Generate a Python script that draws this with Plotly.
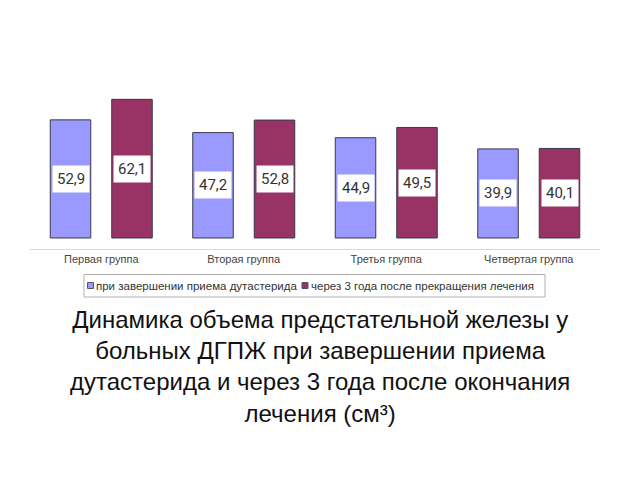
import plotly.graph_objects as go

categories = ["Первая группа", "Вторая группа", "Третья группа", "Четвертая группа"]
series_names = ["при завершении приема дутастерида", "через 3 года после прекращения лечения"]
values_end = [52.9, 47.2, 44.9, 39.9]
values_3y = [62.1, 52.8, 49.5, 40.1]
colors = ["#9999FF", "#993366"]

title_text = ("Динамика объема предстательной железы у<br>"
              "больных ДГПЖ при завершении приема<br>"
              "дутастерида и через 3 года после окончания<br>"
              "лечения (см³)")

W, H = 640, 480
ML, MR, MT, MB = 30, 40, 40, 231
plot_w = W - ML - MR
plot_h = H - MT - MB


def px_x(p):
    return (p - ML) / plot_w


def px_y(p):
    return (H - MB - p) / plot_h


fig = go.Figure()
for name, vals, col in zip(series_names, [values_end, values_3y], colors):
    fig.add_trace(go.Bar(
        x=categories, y=vals, name=name,
        marker=dict(color=col, line=dict(color="#3a3a4a", width=1)),
        hoverinfo="skip", showlegend=False,
    ))

for vals, shift in [(values_end, -30.75), (values_3y, 30.75)]:
    for c, v in zip(categories, vals):
        fig.add_annotation(
            x=c, y=v / 2, xref="x", yref="y", xshift=shift,
            text=f"{v:.1f}".replace(".", ","), showarrow=False,
            bgcolor="white", borderpad=4,
            font=dict(family="Roboto, Arial, sans-serif", size=15, color="#333333"),
        )

# legend box (drawn manually to match the compact original layout)
fig.add_shape(type="rect", xref="paper", yref="paper",
              x0=px_x(84), x1=px_x(545), y0=px_y(297), y1=px_y(274.5),
              line=dict(color="#b0b0b0", width=1), fillcolor="white", layer="below")
legend_items = [(87.5, 94, series_names[0], colors[0]),
                (302, 309, series_names[1], colors[1])]
for sx, tx, name, col in legend_items:
    fig.add_shape(type="rect", xref="paper", yref="paper",
                  x0=px_x(sx), x1=px_x(sx + 6), y0=px_y(288.5), y1=px_y(282.5),
                  line=dict(color="#555566", width=1), fillcolor=col)
    fig.add_annotation(
        x=px_x(tx), y=px_y(285.5), xref="paper", yref="paper",
        xanchor="left", yanchor="middle", text=name, showarrow=False,
        font=dict(family="Arial, Liberation Sans, sans-serif", size=11.5, color="#333333"),
    )

fig.add_annotation(
    x=px_x(320), y=px_y(366),
    xref="paper", yref="paper", xanchor="center", yanchor="middle",
    text=title_text, showarrow=False, align="center",
    font=dict(family="Arial, Liberation Sans, sans-serif", size=24, color="#111111"),
)

fig.update_layout(
    width=W, height=H,
    margin=dict(l=ML, r=MR, t=MT, b=MB),
    paper_bgcolor="white", plot_bgcolor="white",
    barmode="group", bargap=0.137, bargroupgap=0.341,
    showlegend=False,
    xaxis=dict(
        showline=True, linecolor="#d9d9d9", linewidth=1, ticks="",
        tickfont=dict(family="Arial, Liberation Sans, sans-serif", size=11, color="#444444"),
        showgrid=False,
    ),
    yaxis=dict(range=[-4.93, 88.67], visible=False, showgrid=False, zeroline=False),
    font=dict(family="Arial, Liberation Sans, sans-serif"),
)

fig.write_html("out.html")
